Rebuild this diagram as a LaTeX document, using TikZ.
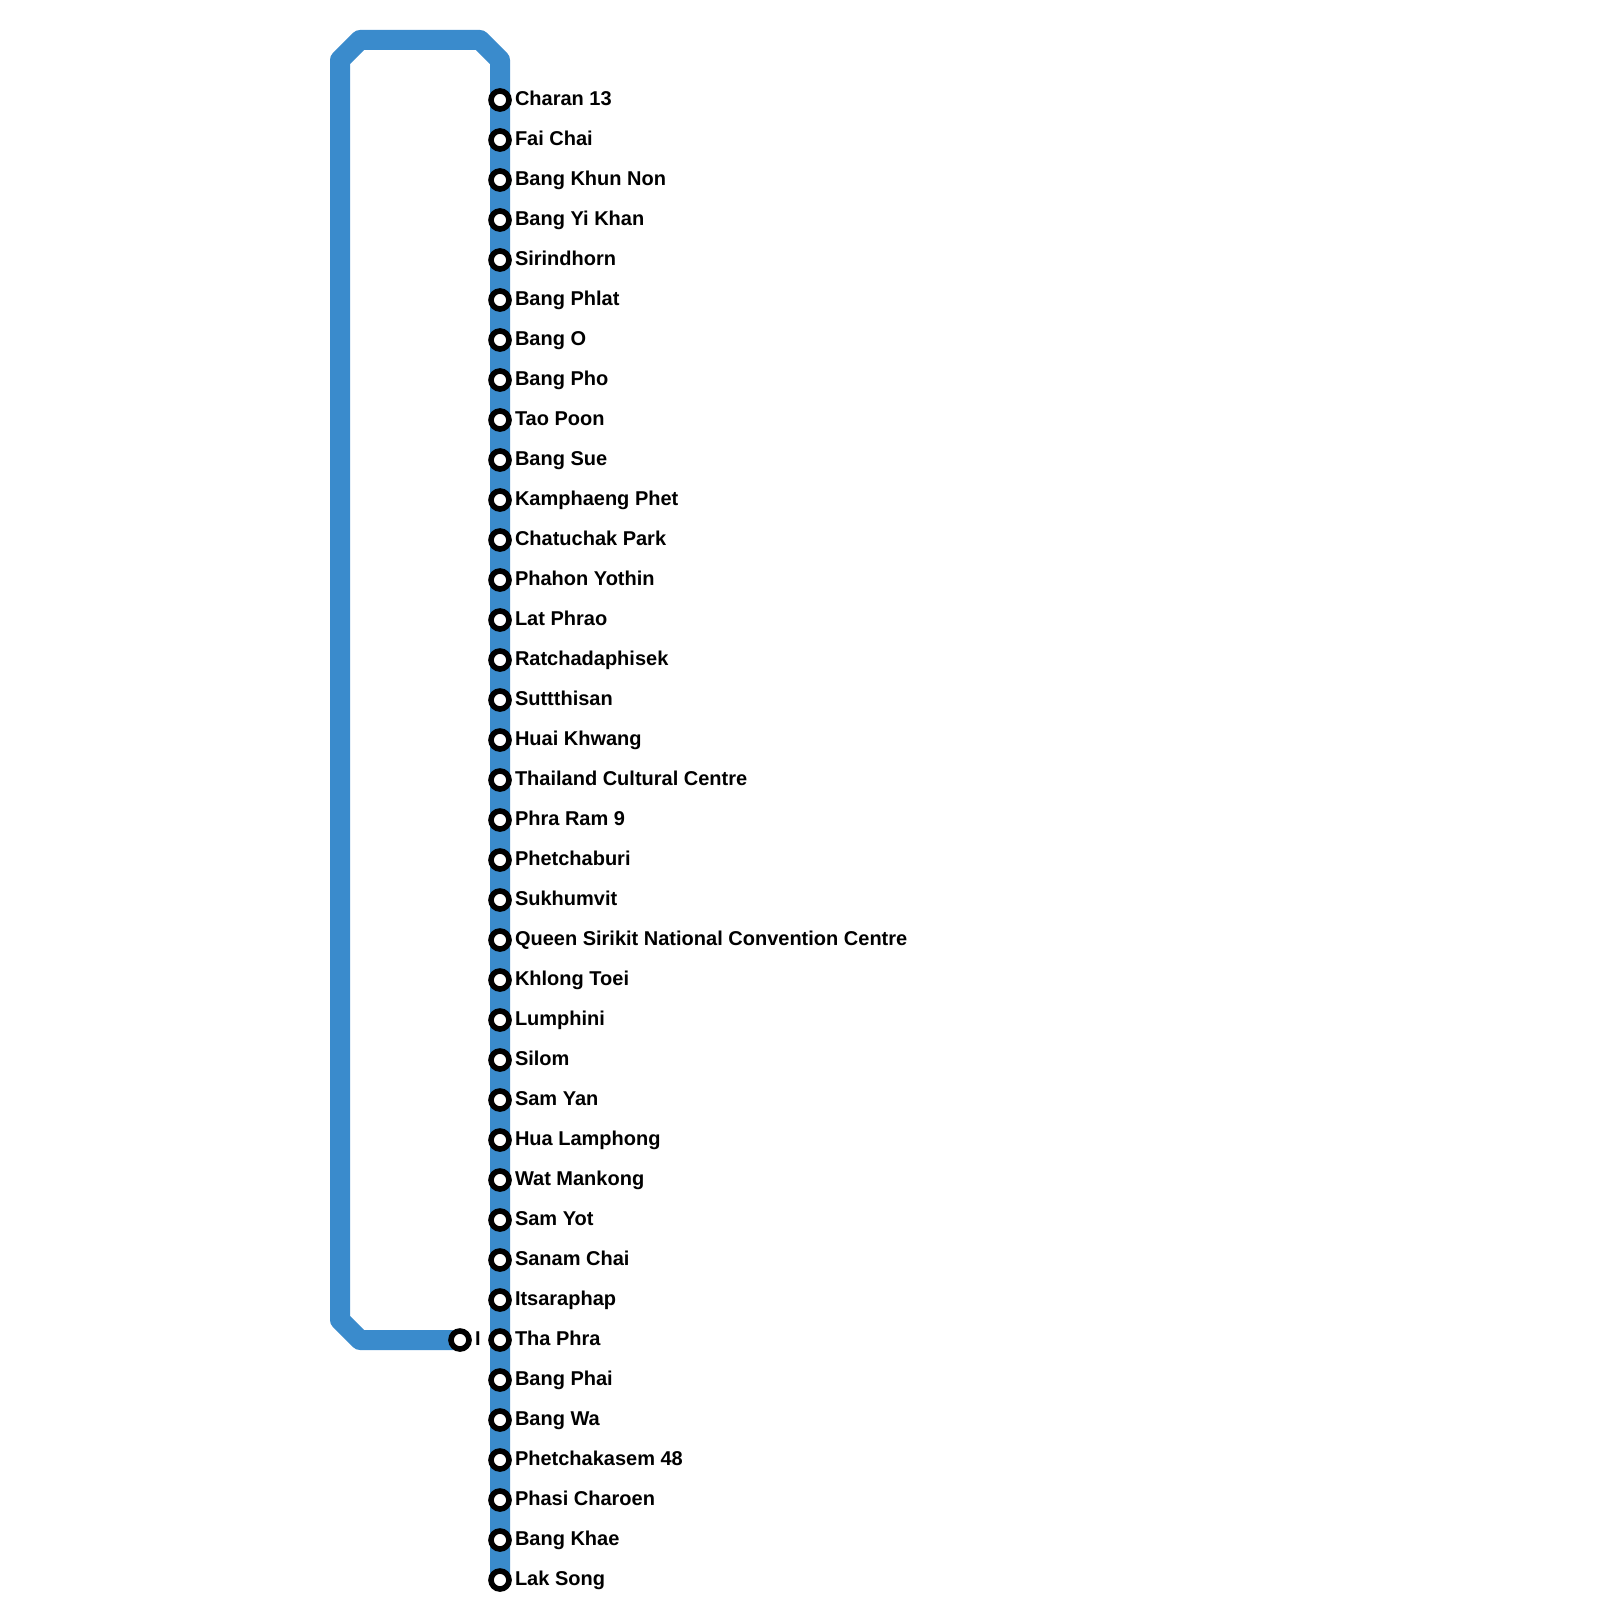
\documentclass[tikz,border=0pt]{standalone}
\usepackage{fontspec}
\setmainfont{Liberation Sans}
\definecolor{linebluelight}{HTML}{3A8BCC}
\usetikzlibrary{positioning,backgrounds}
\tikzset{
  stn/.style={circle,draw=black,fill=white,line width=5.6pt,minimum size=18pt,inner sep=0pt,outer sep=0pt},
  stn_lbl/.style={inner sep=0pt,outer sep=0pt,anchor=west,text height=15pt,text depth=4.5pt,
    font=\fontsize{20}{24}\selectfont\bfseries,text=black},
  line_blue/.style={draw=linebluelight,line width=20pt,line join=round},
}
\begin{document}
\begin{tikzpicture}[x=1pt,y=-1pt,on grid,node distance=40pt]
    \useasboundingbox (0,0) rectangle (1600,1600);
    \node[stn] (s1) at (500,100) {};
    \node[stn,below=of s1] (s2) {};
    \node[stn,below=of s2] (s3) {};
    \node[stn,below=of s3] (s4) {};
    \node[stn,below=of s4] (s5) {};
    \node[stn,below=of s5] (s6) {};
    \node[stn,below=of s6] (s7) {};
    \node[stn,below=of s7] (s8) {};
    \node[stn,below=of s8] (s9) {};
    \node[stn,below=of s9] (s10) {};
    \node[stn,below=of s10] (s11) {};
    \node[stn,below=of s11] (s12) {};
    \node[stn,below=of s12] (s13) {};
    \node[stn,below=of s13] (s14) {};
    \node[stn,below=of s14] (s15) {};
    \node[stn,below=of s15] (s16) {};
    \node[stn,below=of s16] (s17) {};
    \node[stn,below=of s17] (s18) {};
    \node[stn,below=of s18] (s19) {};
    \node[stn,below=of s19] (s20) {};
    \node[stn,below=of s20] (s21) {};
    \node[stn,below=of s21] (s22) {};
    \node[stn,below=of s22] (s23) {};
    \node[stn,below=of s23] (s24) {};
    \node[stn,below=of s24] (s25) {};
    \node[stn,below=of s25] (s26) {};
    \node[stn,below=of s26] (s27) {};
    \node[stn,below=of s27] (s28) {};
    \node[stn,below=of s28] (s29) {};
    \node[stn,below=of s29] (s30) {};
    \node[stn,below=of s30] (s31) {};
    \node[stn,below=of s31] (s32) {};
    \node[stn,below=of s32] (s33) {};
    \node[stn,below=of s33] (s34) {};
    \node[stn,below=of s34] (s35) {};
    \node[stn,below=of s35] (s36) {};
    \node[stn,below=of s36] (s37) {};
    \node[stn,below=of s37] (s38) {};
    \node[stn,left=of s32] (si) {};

    \node[stn_lbl] (l1) at ([xshift=6pt]s1.east) {Charan 13};
    \node[stn_lbl] (l2) at ([xshift=6pt]s2.east) {Fai Chai};
    \node[stn_lbl] (l3) at ([xshift=6pt]s3.east) {Bang Khun Non};
    \node[stn_lbl] (l4) at ([xshift=6pt]s4.east) {Bang Yi Khan};
    \node[stn_lbl] (l5) at ([xshift=6pt]s5.east) {Sirindhorn};
    \node[stn_lbl] (l6) at ([xshift=6pt]s6.east) {Bang Phlat};
    \node[stn_lbl] (l7) at ([xshift=6pt]s7.east) {Bang O};
    \node[stn_lbl] (l8) at ([xshift=6pt]s8.east) {Bang Pho};
    \node[stn_lbl] (l9) at ([xshift=6pt]s9.east) {Tao Poon};
    \node[stn_lbl] (l10) at ([xshift=6pt]s10.east) {Bang Sue};
    \node[stn_lbl] (l11) at ([xshift=6pt]s11.east) {Kamphaeng Phet};
    \node[stn_lbl] (l12) at ([xshift=6pt]s12.east) {Chatuchak Park};
    \node[stn_lbl] (l13) at ([xshift=6pt]s13.east) {Phahon Yothin};
    \node[stn_lbl] (l14) at ([xshift=6pt]s14.east) {Lat Phrao};
    \node[stn_lbl] (l15) at ([xshift=6pt]s15.east) {Ratchadaphisek};
    \node[stn_lbl] (l16) at ([xshift=6pt]s16.east) {Suttthisan};
    \node[stn_lbl] (l17) at ([xshift=6pt]s17.east) {Huai Khwang};
    \node[stn_lbl] (l18) at ([xshift=6pt]s18.east) {Thailand Cultural Centre};
    \node[stn_lbl] (l19) at ([xshift=6pt]s19.east) {Phra Ram 9};
    \node[stn_lbl] (l20) at ([xshift=6pt]s20.east) {Phetchaburi};
    \node[stn_lbl] (l21) at ([xshift=6pt]s21.east) {Sukhumvit};
    \node[stn_lbl] (l22) at ([xshift=6pt]s22.east) {Queen Sirikit National Convention Centre};
    \node[stn_lbl] (l23) at ([xshift=6pt]s23.east) {Khlong Toei};
    \node[stn_lbl] (l24) at ([xshift=6pt]s24.east) {Lumphini};
    \node[stn_lbl] (l25) at ([xshift=6pt]s25.east) {Silom};
    \node[stn_lbl] (l26) at ([xshift=6pt]s26.east) {Sam Yan};
    \node[stn_lbl] (l27) at ([xshift=6pt]s27.east) {Hua Lamphong};
    \node[stn_lbl] (l28) at ([xshift=6pt]s28.east) {Wat Mankong};
    \node[stn_lbl] (l29) at ([xshift=6pt]s29.east) {Sam Yot};
    \node[stn_lbl] (l30) at ([xshift=6pt]s30.east) {Sanam Chai};
    \node[stn_lbl] (l31) at ([xshift=6pt]s31.east) {Itsaraphap};
    \node[stn_lbl] (l32) at ([xshift=6pt]s32.east) {Tha Phra};
    \node[stn_lbl] (l33) at ([xshift=6pt]s33.east) {Bang Phai};
    \node[stn_lbl] (l34) at ([xshift=6pt]s34.east) {Bang Wa};
    \node[stn_lbl] (l35) at ([xshift=6pt]s35.east) {Phetchakasem 48};
    \node[stn_lbl] (l36) at ([xshift=6pt]s36.east) {Phasi Charoen};
    \node[stn_lbl] (l37) at ([xshift=6pt]s37.east) {Bang Khae};
    \node[stn_lbl] (l38) at ([xshift=6pt]s38.east) {Lak Song};
    \node[stn_lbl] (li) at ([xshift=6pt]si.east) {I};

    \coordinate (c1) at (360,1340);
    \coordinate (c2) at (340,1320);
    \coordinate (c3) at (340,60);
    \coordinate (c4) at (360,40);
    \coordinate (c5) at (480,40);
    \coordinate (c6) at (500,60);

    \begin{scope}[on background layer]
      \draw[line_blue](si.center)--(c1)--(c2)--(c3)--(c4)--(c5)--(c6)--(s1.center)--(s38.center);
    \end{scope}
  \end{tikzpicture}
\end{document}
